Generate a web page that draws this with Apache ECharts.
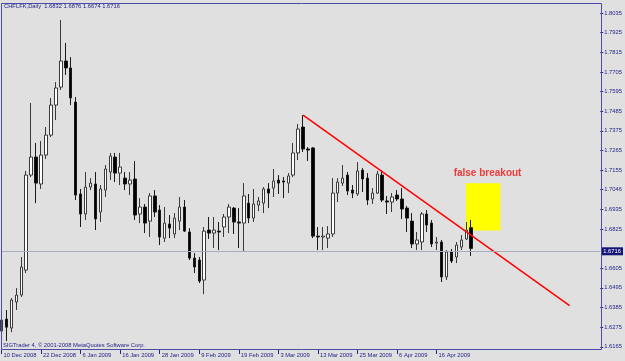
<!DOCTYPE html>
<html><head><meta charset="utf-8">
<script src="https://cdn.jsdelivr.net/npm/echarts@6/dist/echarts.min.js"></script>
<style>html,body{margin:0;padding:0;background:#e0e0e0}#c{width:625px;height:361px}</style>
</head><body><div id="c"></div>
<script>
const categories = [
 "10 Dec 2008","11 Dec 2008","12 Dec 2008","15 Dec 2008","16 Dec 2008","17 Dec 2008","18 Dec 2008","19 Dec 2008","22 Dec 2008","23 Dec 2008","24 Dec 2008","29 Dec 2008","30 Dec 2008","31 Dec 2008",
 "2 Jan 2009","5 Jan 2009","6 Jan 2009","7 Jan 2009","8 Jan 2009","9 Jan 2009","12 Jan 2009","13 Jan 2009","14 Jan 2009","15 Jan 2009","16 Jan 2009","19 Jan 2009","20 Jan 2009","21 Jan 2009","22 Jan 2009","23 Jan 2009","26 Jan 2009","27 Jan 2009","28 Jan 2009","29 Jan 2009","30 Jan 2009",
 "2 Feb 2009","3 Feb 2009","4 Feb 2009","5 Feb 2009","6 Feb 2009","9 Feb 2009","10 Feb 2009","11 Feb 2009","12 Feb 2009","13 Feb 2009","16 Feb 2009","17 Feb 2009","18 Feb 2009","19 Feb 2009","20 Feb 2009","23 Feb 2009","24 Feb 2009","25 Feb 2009","26 Feb 2009","27 Feb 2009",
 "2 Mar 2009","3 Mar 2009","4 Mar 2009","5 Mar 2009","6 Mar 2009","9 Mar 2009","10 Mar 2009","11 Mar 2009","12 Mar 2009","13 Mar 2009","16 Mar 2009","17 Mar 2009","18 Mar 2009","19 Mar 2009","20 Mar 2009","23 Mar 2009","24 Mar 2009","25 Mar 2009","26 Mar 2009","27 Mar 2009","30 Mar 2009","31 Mar 2009",
 "1 Apr 2009","2 Apr 2009","3 Apr 2009","6 Apr 2009","7 Apr 2009","8 Apr 2009","9 Apr 2009","10 Apr 2009","13 Apr 2009","14 Apr 2009","15 Apr 2009","16 Apr 2009","17 Apr 2009","20 Apr 2009","21 Apr 2009","22 Apr 2009","23 Apr 2009","24 Apr 2009","27 Apr 2009"
];
const opens = [1.6253,1.6320,1.6270,1.6416,1.6455,1.6595,1.7127,1.7228,1.7077,1.7239,1.7351,1.7519,1.7620,1.7766,1.7727,1.7536,1.7021,1.6909,1.7060,1.7077,
 1.6920,1.7043,1.7144,1.7228,1.7138,1.7110,1.7077,1.7105,1.6909,1.6948,1.6869,1.7010,1.6931,1.6774,1.6853,1.6797,1.6869,1.6948,1.6808,1.6662,
 1.6651,1.6539,1.6819,1.6802,1.6813,1.6836,1.6892,1.6942,1.6864,1.6858,1.6970,1.6886,1.6959,1.6970,1.7049,1.7054,1.7099,1.7094,1.7082,1.7127,
 1.7251,1.7396,1.7273,1.7279,1.6785,1.6780,1.6774,1.6797,1.7026,1.7082,1.7127,1.7043,1.7021,1.7155,1.7110,1.6993,1.7026,1.7127,1.6982,1.6976,
 1.7015,1.6993,1.6942,1.6869,1.6741,1.6752,1.6909,1.6858,1.6746,1.6752,1.6556,1.6696,1.6668,1.6724,1.6769,1.6832];
const closes = [1.6315,1.6275,1.6427,1.6455,1.6612,1.7127,1.7228,1.7082,1.7239,1.7351,1.7519,1.7615,1.7766,1.7727,1.7559,1.7015,1.6909,1.7060,1.7082,1.6881,
 1.7049,1.7161,1.7234,1.7138,1.7172,1.7077,1.7099,1.6903,1.6948,1.6858,1.7010,1.6920,1.6780,1.6858,1.6830,1.6886,1.6948,1.6813,1.6662,1.6612,
 1.6533,1.6813,1.6802,1.6819,1.6808,1.6892,1.6948,1.6864,1.6858,1.7010,1.6886,1.6965,1.6982,1.7049,1.7026,1.7094,1.7082,1.7088,1.7122,1.7251,
 1.7385,1.7273,1.7267,1.6785,1.6780,1.6785,1.6797,1.7026,1.7088,1.7110,1.7038,1.7026,1.7150,1.7105,1.6987,1.7026,1.7133,1.6987,1.6976,1.7004,
 1.6993,1.6937,1.6886,1.6741,1.6763,1.6909,1.6847,1.6741,1.6752,1.6556,1.6696,1.6645,1.6735,1.6763,1.6819,1.6716];
const lows = [1.6214,1.6197,1.6247,1.6371,1.6444,1.6578,1.7116,1.6970,1.7049,1.7217,1.7340,1.7435,1.7604,1.7688,1.7519,1.6987,1.6836,1.6875,1.7043,1.6819,
 1.6864,1.7004,1.7099,1.7088,1.7071,1.7043,1.7015,1.6875,1.6858,1.6802,1.6780,1.6892,1.6735,1.6752,1.6774,1.6774,1.6819,1.6808,1.6651,1.6578,
 1.6522,1.6460,1.6769,1.6718,1.6707,1.6780,1.6802,1.6797,1.6718,1.6701,1.6858,1.6864,1.6925,1.6914,1.6942,1.7004,1.7021,1.6998,1.7026,1.7116,
 1.7211,1.7256,1.7206,1.6774,1.6707,1.6707,1.6718,1.6780,1.6976,1.7066,1.7015,1.6998,1.7010,1.7032,1.6959,1.6965,1.7021,1.6976,1.6909,1.6920,
 1.6982,1.6881,1.6808,1.6718,1.6707,1.6707,1.6808,1.6724,1.6707,1.6528,1.6539,1.6634,1.6634,1.6707,1.6763,1.6674];
const highs = [1.6382,1.6371,1.6438,1.6494,1.6668,1.7150,1.7531,1.7307,1.7318,1.7396,1.7559,1.7648,1.7996,1.7867,1.7788,1.7564,1.7049,1.7144,1.7110,1.7144,
 1.7071,1.7183,1.7251,1.7251,1.7251,1.7144,1.7144,1.7206,1.6998,1.6965,1.7026,1.7043,1.6959,1.6948,1.6903,1.6914,1.7004,1.6987,1.6830,1.6690,
 1.6668,1.6836,1.6892,1.6892,1.6864,1.6909,1.6965,1.6948,1.6942,1.7082,1.7021,1.7049,1.7004,1.7060,1.7082,1.7161,1.7127,1.7116,1.7138,1.7307,
 1.7413,1.7463,1.7284,1.7284,1.6836,1.6836,1.6841,1.7110,1.7110,1.7183,1.7144,1.7071,1.7200,1.7166,1.7138,1.7054,1.7150,1.7155,1.7010,1.7026,
 1.7043,1.7054,1.6954,1.6914,1.6808,1.6920,1.6931,1.6875,1.6780,1.6763,1.6707,1.6713,1.6752,1.6791,1.6864,1.6876];
const xLabelIdx = [0,8,16,24,32,40,48,56,64,72,80,88];
const yTicks = [1.6165,1.6275,1.6385,1.6495,1.6605,1.6825,1.6935,1.7046,1.7155,1.7265,1.7375,1.7485,1.7595,1.7705,1.7815,1.7925,1.8035];
const yTickLabels = ["1.6165","1.6275","1.6385","1.6495","1.6605","1.6825","1.6935","1.7046","1.7155","1.7265","1.7375","1.7485","1.7595","1.7705","1.7815","1.7925","1.8035"];
const lastPrice = 1.6716;
const headerText = "CHFLFK,Daily  1.6832 1.6876 1.6674 1.6716";
const footerText = "SIGTrader 4, © 2001-2008 MetaQuotes Software Corp.";
const trendLine = [[61, 1.7463], [114.9, 1.6395]];
const breakoutBox = [[93.9, 1.7081], [100.9, 1.6817]];
const breakoutLabel = [98.3, 1.7137];
const breakoutText = "false breakout";

const candles = categories.map((c, i) => [i, opens[i], closes[i], lows[i], highs[i]]);
const FONT = 'Liberation Sans, Arial, sans-serif';
const NAVY = '#23238a';

const chart = echarts.init(document.getElementById('c'), null, {renderer: 'canvas'});
chart.setOption({
  animation: false,
  backgroundColor: '#e0e0e0',
  title: [
    {text: headerText, left: 4, top: 3, padding: 0,
     textStyle: {fontSize: 5.8, fontWeight: 'normal', color: NAVY, fontFamily: FONT}},
    {text: footerText, left: 3, top: 342, padding: 0,
     textStyle: {fontSize: 5.8, fontWeight: 'normal', color: NAVY, fontFamily: FONT}}
  ],
  grid: {left: 1, right: 23, top: 3, bottom: 11},
  xAxis: {
    type: 'value', min: -0.1, max: 121.1,
    axisLine: {show: false, onZero: false}, splitLine: {show: false},
    axisTick: {show: true, length: 4, lineStyle: {color: NAVY}, customValues: xLabelIdx},
    axisLabel: {customValues: xLabelIdx, formatter: v => categories[Math.round(v)],
      align: 'left', padding: [0, 0, 0, 2], margin: 2, fontSize: 5.8, color: NAVY, fontFamily: FONT}
  },
  yAxis: {
    type: 'value', position: 'right', min: 1.6147, max: 1.8091,
    axisLine: {show: false, onZero: false}, splitLine: {show: false},
    axisTick: {show: true, length: 3, lineStyle: {color: NAVY}, customValues: yTicks},
    axisLabel: {customValues: yTicks, margin: 4, fontSize: 5.8, color: NAVY, fontFamily: FONT,
      formatter: v => { for (let i = 0; i < yTicks.length; i++) if (Math.abs(yTicks[i] - v) < 1e-6) return yTickLabels[i]; return ''; }}
  },
  graphic: [{type: 'rect', silent: true, z: 100,
    shape: {x: 1.5, y: 3.5, width: 600, height: 346},
    style: {fill: null, stroke: '#4c4ca6', lineWidth: 1}}],
  series: [
    {type: 'line', data: [], z: 1, silent: true,
     markArea: {silent: true, itemStyle: {color: '#ffff00', opacity: 1},
       data: [[{coord: breakoutBox[0]}, {coord: breakoutBox[1]}]]}},
    {type: 'candlestick', data: candles, barWidth: 3, z: 2, silent: true,
     itemStyle: {color: '#ffffff', color0: '#000000', borderColor: '#3a3a3a', borderColor0: '#1a1a1a', borderWidth: 1},
     markLine: {silent: true, symbol: ['none', 'none'],
       lineStyle: {color: '#a6adbd', type: 'solid', width: 1},
       label: {show: true, position: 'end', formatter: lastPrice.toFixed(4), color: '#ffffff',
         backgroundColor: '#16167a', padding: [1, 2, 1, 2], fontSize: 5.8, fontFamily: FONT, distance: 1},
       data: [{yAxis: lastPrice}]}},
    {type: 'line', data: trendLine, z: 3, symbol: 'none', silent: true,
     lineStyle: {color: '#ff0000', width: 1.5}},
    {type: 'scatter', data: [breakoutLabel], z: 4, symbolSize: 0, silent: true,
     label: {show: true, position: 'inside', formatter: breakoutText, color: '#f01010',
       fontSize: 10, fontWeight: 'bold', fontFamily: FONT}}
  ]
});
</script></body></html>
